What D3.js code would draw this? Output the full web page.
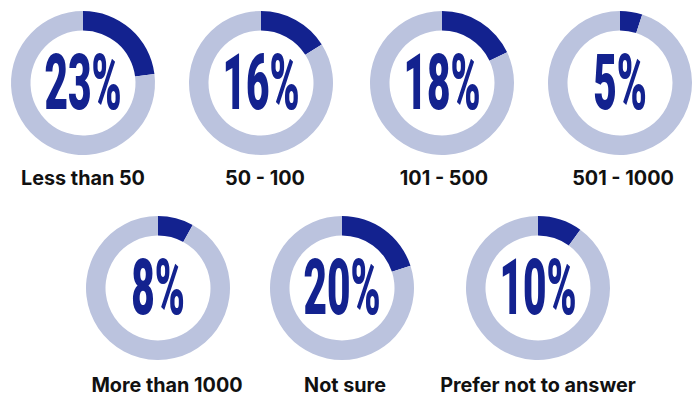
<!DOCTYPE html>
<html>
<head>
<meta charset="utf-8">
<script src="https://cdn.jsdelivr.net/npm/d3@7"></script>
<style>
  html, body { margin: 0; padding: 0; background: #ffffff; }
  svg { display: block; }
</style>
</head>
<body>
<svg id="chart" width="695" height="396"></svg>
<script>
// Share of respondents by group
const categories = ["Less than 50", "50 - 100", "101 - 500", "501 - 1000", "More than 1000", "Not sure", "Prefer not to answer"];
const percents = [23, 16, 18, 5, 8, 20, 10];

// Donut centres (x, row) and caption nudges
const rowY = [83, 288];
const centres = [
  [83, 0], [261, 0], [442, 0], [620, 0],
  [158, 1], [342, 1], [538, 1]
];
const labelShift = [0, 4, 2, 3, 9, 3, 0];

const outerR = 72, innerR = 52.5;
const darkBlue = "#13228f", lightBlue = "#bbc3de";

const svg = d3.select("#chart");
const pie = d3.pie().sort(null).value(d => d);
const arc = d3.arc().innerRadius(innerR).outerRadius(outerR);

const data = categories.map((c, i) => ({
  label: c, value: percents[i],
  cx: centres[i][0], cy: rowY[centres[i][1]], dx: labelShift[i]
}));

const g = svg.selectAll("g.donut").data(data).join("g")
  .attr("class", "donut")
  .attr("transform", d => `translate(${d.cx},${d.cy})`);

g.selectAll("path")
  .data(d => pie([d.value, 100 - d.value]))
  .join("path")
  .attr("d", arc)
  .attr("fill", (d, i) => i === 0 ? darkBlue : lightBlue);

// Big condensed percentage in the middle of each ring
g.append("text")
  .attr("transform", "translate(0,26) scale(0.52,1)")
  .attr("text-anchor", "middle")
  .attr("font-family", "Roboto, 'DejaVu Sans', sans-serif")
  .attr("font-weight", 900)
  .attr("font-size", 78)
  .attr("fill", darkBlue)
  .text(d => d.value + "%");

g.append("text")
  .attr("x", d => d.dx)
  .attr("y", d => d.cy === rowY[0] ? 102 : 104)
  .attr("text-anchor", "middle")
  .attr("font-family", "Inter, 'Noto Sans', sans-serif")
  .attr("font-weight", 700)
  .attr("font-size", 19.8)
  .attr("fill", "#111111")
  .text(d => d.label);
</script>
</body>
</html>
